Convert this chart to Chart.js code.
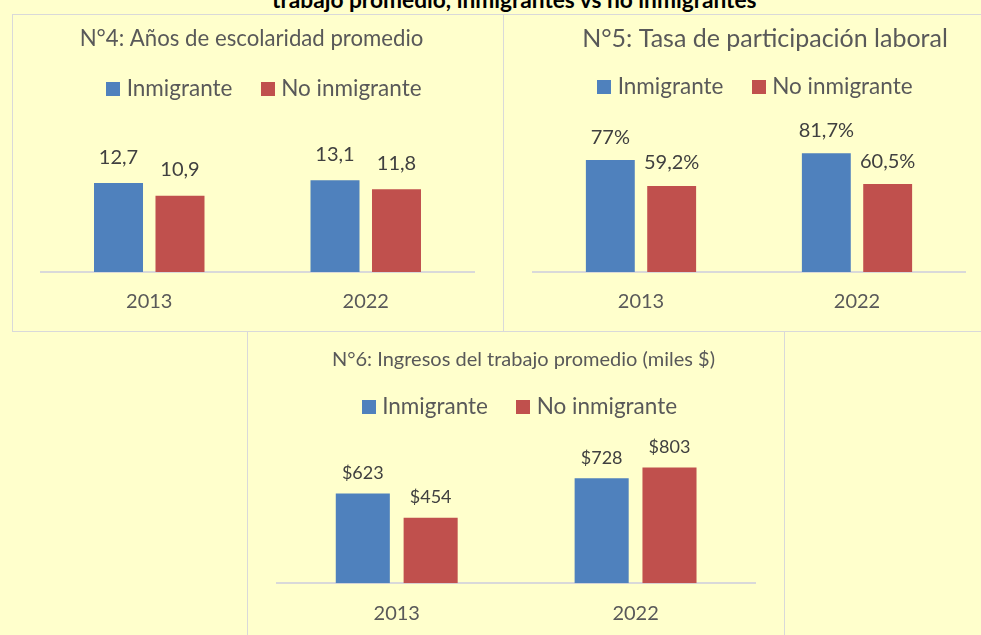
<!DOCTYPE html>
<html>
<head>
<meta charset="utf-8">
<script src="https://cdn.jsdelivr.net/npm/chart.js@4"></script>
<style>
  html, body { margin: 0; padding: 0; background: #FFFFCC; width: 981px; height: 635px; overflow: hidden; }
  .panel { position: absolute; box-sizing: border-box; border: 1px solid #D9D9D9; background: #FFFFCC; }
  .panel canvas { display: block; }
  #p1 { left: 12px; top: 14px; width: 492px; height: 318px; }
  #p2 { left: 503px; top: 14px; width: 500px; height: 318px; }
  #p3 { left: 247px; top: 331px; width: 538px; height: 318px; }
  #mainTitle { position: absolute; left: 272px; top: -11px; font: bold 22.7px Lato; line-height: 22.7px; white-space: nowrap; color: #000; }
</style>
</head>
<body>
<div id="mainTitle">trabajo promedio, inmigrantes vs no inmigrantes</div>
<div class="panel" id="p1"><canvas id="c1" width="490" height="316"></canvas></div>
<div class="panel" id="p2"><canvas id="c2" width="498" height="316"></canvas></div>
<div class="panel" id="p3"><canvas id="c3" width="536" height="316"></canvas></div>
<script>
// ---- data ----
const years = ['2013', '2022'];
const seriesNames = ['Inmigrante', 'No inmigrante'];
const seriesColors = ['#4F81BD', '#C0504D'];

const escolaridadInmigrante = [12.7, 13.1];
const escolaridadNoInmigrante = [10.9, 11.8];

const participacionInmigrante = [77, 81.7];
const participacionNoInmigrante = [59.2, 60.5];

const ingresosInmigrante = [623, 728];
const ingresosNoInmigrante = [454, 803];

const chartTitles = [
  'N°4: Años de escolaridad promedio',
  'N°5: Tasa de participación laboral',
  'N°6: Ingresos del trabajo promedio (miles $)'
];

// ---- helpers ----
const fmtDecimal = v => String(v).replace('.', ',');

// small square legend markers (Excel style: tight gap between marker and text)
const legendSquares = seriesColors.map(c => {
  const cv = document.createElement('canvas');
  cv.width = 14; cv.height = 14;
  const g = cv.getContext('2d');
  g.fillStyle = c; g.fillRect(0, 0, 14, 14);
  return cv;
});

const shiftBoxes = {
  id: 'shiftBoxes',
  afterLayout(chart, args, opts) {
    if (chart.titleBlock && opts.title) { chart.titleBlock.left += opts.title; chart.titleBlock.right += opts.title; }
    if (chart.legend && opts.legend) { chart.legend.left += opts.legend; chart.legend.right += opts.legend; }
  }
};

const valueLabels = {
  id: 'valueLabels',
  afterDatasetsDraw(chart, args, opts) {
    const ctx = chart.ctx;
    ctx.save();
    ctx.font = opts.size + 'px Lato';
    ctx.fillStyle = '#404040';
    ctx.textAlign = 'center';
    ctx.textBaseline = 'middle';
    chart.data.datasets.forEach((ds, i) => {
      chart.getDatasetMeta(i).data.forEach((bar, j) => {
        ctx.fillText(opts.format(ds.data[j]), bar.x, bar.y - opts.offset);
      });
    });
    ctx.restore();
  }
};

Chart.defaults.font.family = 'Lato';

function makeChart(id, title, a, b, L) {
  return new Chart(document.getElementById(id), {
    type: 'bar',
    data: {
      labels: years,
      datasets: [
        { label: seriesNames[0], data: a, backgroundColor: seriesColors[0], borderWidth: 0 },
        { label: seriesNames[1], data: b, backgroundColor: seriesColors[1], borderWidth: 0 }
      ]
    },
    options: {
      responsive: false,
      animation: false,
      devicePixelRatio: 1,
      layout: { padding: { left: L.padL, right: L.padR, top: 0, bottom: L.padB } },
      datasets: { bar: { categoryPercentage: 0.568, barPercentage: 0.797 } },
      scales: {
        x: {
          grid: { display: false, drawTicks: false },
          border: { display: true, color: '#D9D9D9', width: 2 },
          ticks: { color: '#595959', font: { family: 'Lato', size: 20, lineHeight: 1 }, padding: L.tickPad }
        },
        y: { display: false, min: 0, max: L.yMax }
      },
      plugins: {
        title: {
          display: true, text: title, color: '#595959',
          font: { family: 'Lato', size: L.titleSize, weight: 'normal', lineHeight: 1 },
          padding: { top: L.titleTop, bottom: L.titleBottom }
        },
        legend: {
          display: true, position: 'top',
          labels: {
            color: '#595959', font: { family: 'Lato', size: 22.5 },
            usePointStyle: true, pointStyleWidth: 4, boxHeight: 14, padding: 33.5,
            generateLabels(chart) {
              const items = Chart.defaults.plugins.legend.labels.generateLabels(chart);
              items.forEach((it, i) => { it.pointStyle = legendSquares[i]; });
              return items;
            }
          }
        },
        tooltip: { enabled: false },
        shiftBoxes: { title: L.titleShift, legend: L.legendShift },
        valueLabels: { size: L.labelSize, offset: L.labelOffset, format: L.format }
      }
    },
    plugins: [shiftBoxes, valueLabels]
  });
}

makeChart('c1', chartTitles[0], escolaridadInmigrante, escolaridadNoInmigrante, {
  padL: 28, padR: 29, padB: 0.6, tickPad: 19.2, yMax: 23.1,
  titleSize: 22.2, titleTop: 13, titleBottom: -5.95, titleShift: -6, legendShift: 9.0,
  labelSize: 20, labelOffset: 26, format: v => fmtDecimal(v)
});

makeChart('c2', chartTitles[1], participacionInmigrante, participacionNoInmigrante, {
  padL: 29, padR: 37, padB: -1, tickPad: 20, yMax: 112.7,
  titleSize: 25, titleTop: 11.8, titleBottom: -9.55, titleShift: 16, legendShift: 8.5,
  labelSize: 20, labelOffset: 23, format: v => fmtDecimal(v) + '%'
});

makeChart('c3', chartTitles[2], ingresosInmigrante, ingresosNoInmigrante, {
  padL: 29.3, padR: 29, padB: 4.3, tickPad: 20.2, yMax: 1074.5,
  titleSize: 20, titleTop: 17.6, titleBottom: -7.35, titleShift: 7.3, legendShift: 5.85,
  labelSize: 18, labelOffset: 20.5, format: v => '$' + v
});
</script>
</body>
</html>
